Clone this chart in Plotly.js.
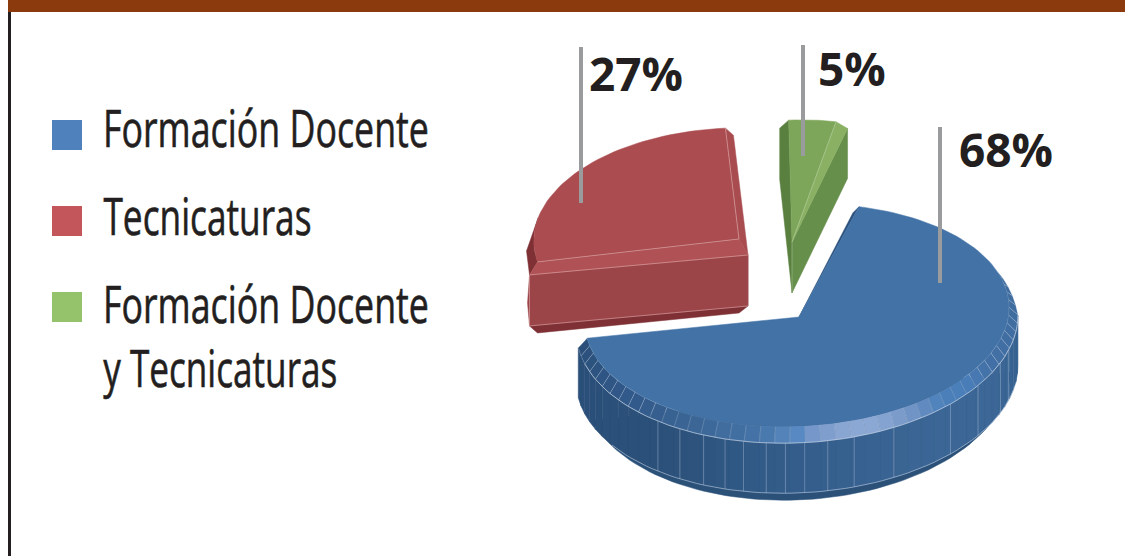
<!DOCTYPE html>
<html>
<head>
<meta charset="utf-8">
<script src="https://cdn.plot.ly/plotly-3.0.1.min.js"></script>
<style>
html, body { margin: 0; padding: 0; background: #ffffff; overflow: hidden; }
</style>
</head>
<body>
<div id="plot" style="width:1125px;height:556px"></div>
<script>
const categories = ["Formación Docente", "Tecnicaturas", "Formación Docente<br>y Tecnicaturas"];
const shares = [68, 27, 5];
const swatchColors = ["#4f81bd", "#c2565a", "#95c36b"];

const startAngle = 73;
const shear = -0.035;
const wallHeight = 50;

const labelFont = "'Open Sans', sans-serif";
const legendFont = "'Open Sans', sans-serif";

// angles go clockwise on screen, each slice starts where the previous one stopped
function sliceAngles() {
    const out = [];
    let from = startAngle;
    shares.forEach((share) => {
        const to = from - share * 3.6;
        out.push({ from: from, to: to });
        from = to;
    });
    return out;
}

function ellipsePoint(e, deg) {
    const t = deg * Math.PI / 180;
    const dx = e.rx * Math.cos(t);
    const dy = -e.ry * Math.sin(t);
    return [e.x + dx + (e.skew || 0) * dy, e.y + dy + shear * dx];
}

function arc(e, from, to, step) {
    const pts = [];
    const n = Math.max(1, Math.ceil(Math.abs(to - from) / (step || 2)));
    for (let i = 0; i <= n; i += 1) {
        pts.push(ellipsePoint(e, from + (to - from) * i / n));
    }
    return pts;
}

function shift(pts, dx, dy) {
    return pts.map((p) => [p[0] + dx, p[1] + dy]);
}

function polygon(pts, color, lineColor, lineWidth) {
    return {
        x: pts.map((p) => p[0]).concat([pts[0][0]]),
        y: pts.map((p) => p[1]).concat([pts[0][1]]),
        type: "scatter",
        mode: "lines",
        fill: "toself",
        fillcolor: color,
        line: { color: lineColor || color, width: lineWidth === undefined ? 0.5 : lineWidth },
        hoverinfo: "skip"
    };
}

function path(pts, color, width) {
    return {
        x: pts.map((p) => p[0]),
        y: pts.map((p) => p[1]),
        type: "scatter",
        mode: "lines",
        line: { color: color, width: width },
        hoverinfo: "skip"
    };
}

function hexToRgb(hex) {
    return [1, 3, 5].map((i) => parseInt(hex.slice(i, i + 2), 16));
}

function rampColor(stops, deg) {
    let i = 0;
    while (i < stops.length - 2 && deg > stops[i + 1][0]) i += 1;
    const a = stops[i];
    const b = stops[i + 1];
    const k = Math.min(1, Math.max(0, (deg - a[0]) / (b[0] - a[0])));
    const ca = hexToRgb(a[1]);
    const cb = hexToRgb(b[1]);
    return "rgb(" + ca.map((v, j) => Math.round(v + (cb[j] - v) * k)).join(",") + ")";
}

const rimStops = [
    [188, "#2a4f78"], [219, "#31598a"], [242, "#3b6696"], [260, "#4573a8"], [267, "#5585bb"],
    [269, "#4a82c0"], [272, "#6f93c8"], [283, "#8ba7d3"], [292, "#8ba7d3"], [303, "#6e92c4"],
    [312, "#4a7fba"], [321, "#4a7fba"], [333, "#426fa5"], [378, "#3f6c9c"]
];
const wallStops = [
    [188, "#2a4f78"], [231, "#2b5079"], [262, "#325b88"], [300, "#3a6594"], [330, "#3c6796"], [360, "#33608e"]
];
const wallSeams = [231, 238, 245, 251, 256, 262, 267, 272, 278, 285, 296, 314, 325, 337, 343];

function blueTraces(angles) {
    const face = { x: 797, y: 315, rx: 212, ry: 111 };
    const rim = { x: 797, y: 323, rx: 221, ry: 120 };
    const foot = { x: 797, y: 380, rx: 213, ry: 120 };
    const apex = [799, 317];
    const end = angles.to + 360;
    const traces = [];

    traces.push(polygon(arc(foot, end + 8, 360), "#2b5179"));

    for (let d = end; d < 360; d += 4) {
        const top = arc(rim, d, Math.min(d + 4, 360), 2);
        const color = rampColor(wallStops, d + 2);
        traces.push(polygon(top.concat(shift(top, 0, wallHeight).reverse()), color));
    }
    wallSeams.forEach((d) => {
        const p = ellipsePoint(rim, d);
        traces.push(path([p, [p[0], p[1] + wallHeight]], "rgba(190,205,225,0.55)", 0.7));
    });
    traces.push(path(shift(arc(rim, end + 25, 350), 0, wallHeight), "rgba(205,218,235,0.7)", 0.8));

    // the bevel narrows to nothing past the right end of the pie
    const taper = (d, p, q) => {
        const k = d > 360 ? Math.max(0, 1 - (d - 360) / 22) : 1;
        return [q[0] + (p[0] - q[0]) * k, q[1] + (p[1] - q[1]) * k];
    };
    for (let d = end; d < 382; d += 4) {
        const a = [d, d + 2, d + 4];
        const inner = a.map((v) => ellipsePoint(face, v));
        const outer = a.map((v, i) => taper(v, ellipsePoint(rim, v), inner[i]));
        traces.push(polygon(outer.concat(inner.slice().reverse()), rampColor(rimStops, d + 2), "rgba(195,210,230,0.4)", 0.5));
    }
    traces.push(path(arc(rim, end + 8, 360), "rgba(205,218,235,0.75)", 0.8));

    const corner = ellipsePoint(face, angles.from);
    traces.push(polygon([apex, corner, [corner[0] - 6, corner[1] + 6]], "#2c527d"));
    traces.push(polygon([apex].concat(arc(face, angles.from, angles.to)), "#4272a6"));
    return traces;
}

function redTraces(angles) {
    const face = { x: 739, y: 239, rx: 205, ry: 111, skew: 0.09 };
    const apex = [739, 239];
    const left = ellipsePoint(face, angles.from);
    const top = ellipsePoint(face, angles.to);
    const rimApex = [748, 255];
    const rimTop = [top[0] + 8, top[1] + 7];
    const rimLeft = [left[0] - 8, left[1] + 13];
    const darkEdge = "#7e3035";
    const seam = "rgba(226,180,180,0.8)";
    const traces = [];

    traces.push(polygon([rimLeft, rimApex, [rimApex[0], rimApex[1] + 51], [739, rimApex[1] + 58],
        [rimLeft[0] + 8, rimLeft[1] + 58], [rimLeft[0], rimLeft[1] + 51]], darkEdge));
    traces.push(polygon([rimLeft, rimApex, [rimApex[0], rimApex[1] + 51], [rimLeft[0], rimLeft[1] + 51],
        [rimLeft[0] - 2, rimLeft[1] + 28]], "#9c4549"));
    traces.push(polygon(arc(face, angles.from, angles.from - 23).concat([[rimLeft[0] - 3, rimLeft[1] - 24], rimLeft]), darkEdge));
    traces.push(polygon([left, apex, rimApex, rimLeft], "#b05255"));
    traces.push(polygon([top, rimTop, rimApex, apex], "#a94c50"));
    traces.push(polygon([apex].concat(arc(face, angles.from, angles.to)), "#ab4d50"));
    traces.push(path([left, apex, top], seam, 0.7));
    traces.push(path([rimLeft, rimApex], seam, 0.7));
    traces.push(path([rimLeft, [rimLeft[0], rimLeft[1] + 51], [rimApex[0], rimApex[1] + 51]], seam, 0.7));
    return traces;
}

function greenTraces(angles) {
    const face = { x: 792, y: 242, rx: 190, ry: 122 };
    const apex = [792, 242];
    const tip = [792, 293];
    const left = ellipsePoint(face, angles.from);
    const tipAngle = angles.to + (angles.from - angles.to) * 0.2;
    const outer = ellipsePoint(face, angles.to);
    const right = [outer[0], outer[1] + 5];
    const inner = ellipsePoint(face, tipAngle);
    const leftOuter = [left[0] - 9, left[1] + 8];
    const traces = [];

    traces.push(polygon([apex, right, [right[0], right[1] + 50], tip], "#678f4c"));
    traces.push(polygon([left, leftOuter, [leftOuter[0], leftOuter[1] + 51], tip, apex], "#5a8040"));
    traces.push(polygon([apex, inner, right], "#8ab063"));
    traces.push(polygon([apex].concat(arc(face, angles.from, tipAngle)), "#7ea65b"));
    traces.push(path([inner, apex, tip], "rgba(205,225,185,0.7)", 0.6));
    return traces;
}

const angles = sliceAngles();
const traces = [].concat(
    greenTraces(angles[2]),
    redTraces(angles[1]),
    blueTraces(angles[0])
);

// grey leader lines that tie each percentage to its slice
const leaderX = [940, 581, 803];
const leaderTop = [127, 47, 45];
const leaderBottom = [283, 203, 156];
shares.forEach((share, i) => {
    traces.push(path([[leaderX[i], leaderTop[i]], [leaderX[i], leaderBottom[i]]], "#9a9b9d", 4));
});

// legend swatches
const swatchY = [135, 221, 307];
traces.push({
    x: swatchY.map(() => 67),
    y: swatchY,
    type: "scatter",
    mode: "markers",
    marker: { symbol: "square", size: 30, color: swatchColors, line: { width: 0 } },
    hoverinfo: "skip"
});

// tail of a letter from the cropped heading above the chart
traces.push(path([[197, 6], [202, 4], [205, 0]], "#ffffff", 2.5));

const labelX = [957, 587, 816];
const labelY = [149, 73, 68];
const percentAnnotations = shares.map((share, i) => ({
    x: labelX[i],
    y: labelY[i],
    xref: "x",
    yref: "y",
    xanchor: "left",
    yanchor: "middle",
    text: share + "%",
    showarrow: false,
    font: { family: labelFont, size: 46, weight: 700, color: "#231f20" }
}));

// the reference uses a condensed face, so each line gets squeezed to its width below
const legendLines = categories.join("<br>").split("<br>");
const legendMiddle = [126, 214, 302, 366];
const legendWidth = [326, 208, 326, 234];
const legendLeft = 103;
const legendAnnotations = legendLines.map((line, i) => ({
    x: legendLeft + legendWidth[i] / 2,
    y: legendMiddle[i],
    xref: "x",
    yref: "y",
    xanchor: "center",
    yanchor: "middle",
    text: line,
    showarrow: false,
    font: { family: legendFont, size: 52, color: "#231f20" }
}));

const layout = {
    width: 1125,
    height: 556,
    margin: { t: 0, l: 0, r: 0, b: 0 },
    paper_bgcolor: "#ffffff",
    plot_bgcolor: "#ffffff",
    showlegend: false,
    xaxis: { range: [0, 1125], visible: false, fixedrange: true },
    yaxis: { range: [556, 0], visible: false, fixedrange: true },
    shapes: [
        { type: "rect", xref: "x", yref: "y", x0: 8, x1: 1125, y0: 0, y1: 12, fillcolor: "#8a3a0c", line: { width: 0 } },
        { type: "rect", xref: "x", yref: "y", x0: 8, x1: 11, y0: 12, y1: 556, fillcolor: "#231f20", line: { width: 0 } }
    ],
    annotations: percentAnnotations.concat(legendAnnotations)
};

Plotly.newPlot("plot", traces, layout, { displayModeBar: false, staticPlot: true }).then(() => {
    const texts = document.querySelectorAll("#plot .annotation-text");
    legendLines.forEach((line, i) => {
        const text = texts[percentAnnotations.length + i];
        text.setAttribute("textLength", legendWidth[i]);
        text.setAttribute("lengthAdjust", "spacingAndGlyphs");
        text.style.stroke = "#231f20";
        text.style.strokeWidth = "0.6px";
    });
});
</script>
</body>
</html>
